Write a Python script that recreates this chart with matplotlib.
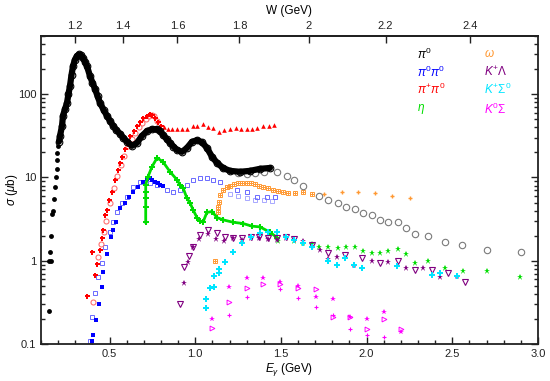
import matplotlib
matplotlib.use('Agg')
import matplotlib.pyplot as plt
import numpy as np
from matplotlib.ticker import MultipleLocator, NullLocator, LogLocator, NullFormatter

plt.rcParams['font.family'] = ['Liberation Sans', 'DejaVu Sans']
plt.rcParams['mathtext.fontset'] = 'custom'
plt.rcParams['mathtext.it'] = 'Liberation Sans:italic'
plt.rcParams['mathtext.rm'] = 'Liberation Sans'
plt.rcParams['mathtext.sf'] = 'Liberation Sans'

# ---------------- data (E_gamma in GeV, sigma in microbarn) ----------------
pi0_low_E = [0.145, 0.148, 0.153, 0.157, 0.158, 0.164, 0.170, 0.176, 0.182, 0.188, 0.193, 0.194, 0.196, 0.199]
pi0_low_s = [0.25, 1.0, 1.26, 1.0, 2.0, 3.6, 4.0, 5.5, 7.7, 10, 12.8, 16, 19.8, 24]

pi0_E = [0.205, 0.211, 0.223, 0.228, 0.240, 0.252, 0.260, 0.269, 0.278, 0.287, 0.298, 0.310, 0.322, 0.334,
         0.345, 0.357, 0.368, 0.386, 0.400, 0.415, 0.430, 0.444, 0.465, 0.485, 0.502, 0.520, 0.540, 0.561,
         0.580, 0.602, 0.631, 0.660, 0.689, 0.718, 0.748, 0.777, 0.795, 0.812, 0.833, 0.853, 0.873, 0.893,
         0.923, 0.952, 0.981, 1.010, 1.039, 1.068, 1.098, 1.127, 1.162, 1.203, 1.261, 1.319, 1.378, 1.436]
pi0_s = [27, 31.6, 42, 55, 66, 79, 100, 125, 170, 218, 260, 288, 300, 292,
         272, 245, 218, 165, 138, 116, 95, 79, 65, 55, 48, 42, 37, 33.5,
         30, 27, 24, 26, 31.6, 36, 38, 38, 36, 32.5, 29, 26, 23.5, 21.5,
         20.3, 22.7, 26.8, 28, 26.5, 22.7, 17.7, 15, 13, 12, 11.7, 12, 12.7, 13]

pi0_hi_E = [1.25, 1.30, 1.35, 1.40, 1.475, 1.533, 1.576, 1.630, 1.724, 1.776, 1.831, 1.879, 1.932, 1.980,
            2.029, 2.078, 2.126, 2.181, 2.230, 2.282, 2.360, 2.457, 2.558, 2.704, 2.899]
pi0_hi_s = [11.2, 11.0, 11.3, 11.5, 11.6, 10.5, 9.4, 8.0, 6.07, 5.40, 4.93, 4.48, 4.17, 3.74,
            3.50, 3.10, 2.91, 2.91, 2.47, 2.09, 1.96, 1.68, 1.56, 1.34, 1.27]

pipi0_fill_E = [0.368, 0.398, 0.415, 0.427, 0.444, 0.456, 0.462, 0.473, 0.485, 0.497, 0.514, 0.532, 0.549,
                0.561, 0.575, 0.590, 0.605, 0.619, 0.640, 0.658, 0.678, 0.697, 0.716, 0.736, 0.750, 0.765, 0.784, 0.800]
pipi0_fill_s = [0.38, 1.28, 0.68, 0.92, 1.36, 1.89, 2.36, 3.57, 4.1, 5.4, 6.7, 9.4, 12.4,
                15, 17.5, 22, 25, 31.6, 36, 41.7, 47, 52.5, 55, 57.6, 56, 52.5, 45.8, 42]
pipi0_open_E = [0.403, 0.433, 0.450, 0.468, 0.480, 0.503, 0.525, 0.545, 0.567, 0.585, 0.610, 0.630, 0.650,
                0.670, 0.690, 0.710, 0.728, 0.745, 0.760, 0.775]
pipi0_open_s = [0.32, 1.12, 1.6, 2.2, 3.0, 5.0, 7.5, 10.5, 14, 18, 24, 29, 34, 40, 45, 50, 54, 56, 54, 48]
pipi0_tri_E = [0.82, 0.84, 0.864, 0.893, 0.923, 0.952, 0.987, 1.010, 1.045, 1.074, 1.104, 1.138, 1.168, 1.203,
               1.238, 1.267, 1.302, 1.331, 1.360, 1.395, 1.430, 1.459]
pipi0_tri_s = [40, 38.5, 38.2, 38.2, 38.2, 38.2, 41.7, 41, 44, 40.2, 39.1, 35.6, 37.2, 38.2,
               39.1, 38.2, 38.2, 38.2, 39.1, 41.7, 41.7, 42.8]

pi0pi0_fill_E = [0.398, 0.403, 0.421, 0.438, 0.456, 0.462, 0.485, 0.508, 0.520, 0.538, 0.561, 0.590, 0.613,
                 0.637, 0.666, 0.695, 0.716, 0.736, 0.750, 0.765, 0.780, 0.794, 0.810]
pi0pi0_fill_s = [0.11, 0.13, 0.196, 0.30, 0.49, 0.74, 1.2, 1.94, 2.36, 2.9, 4.3, 5.0, 5.9,
                 6.7, 7.7, 8.9, 9.5, 9.9, 9.4, 8.9, 8.5, 8.2, 7.8]
pi0pi0_open_E = [0.386, 0.398, 0.415, 0.433, 0.456, 0.473, 0.503, 0.520, 0.543, 0.573, 0.602, 0.637, 0.678,
                 0.736, 0.777, 0.835, 0.870, 0.911, 0.952, 0.987, 1.028, 1.068, 1.104, 1.144, 1.185, 1.244,
                 1.302, 1.360, 1.419, 1.465]
pi0pi0_open_s = [0.11, 0.21, 0.41, 0.64, 0.95, 1.47, 2.2, 2.9, 3.9, 5.0, 5.9, 7.7, 8.9,
                 8.6, 8.2, 7.1, 6.7, 7.1, 8.2, 9.4, 9.9, 9.9, 9.4, 8.9, 7.7, 7.1,
                 6.6, 5.9, 5.9, 5.9]
pi0pi0_lt_E = [1.20, 1.25, 1.30, 1.35, 1.40, 1.45]
pi0pi0_lt_s = [6.3, 6.0, 5.6, 5.4, 5.3, 5.2]

eta_E = [0.711, 0.711, 0.711, 0.711, 0.711, 0.724, 0.748, 0.777, 0.812, 0.853, 0.893, 0.911, 0.929, 0.952,
         0.969, 0.987, 1.010, 1.030, 1.045, 1.068, 1.098, 1.127, 1.162, 1.220, 1.279, 1.331, 1.378, 1.436, 1.477]
eta_s = [2.9, 4.4, 5.7, 6.7, 8.2, 10.2, 13.5, 17.2, 15.4, 11.7, 9.4, 8.2, 7.5, 5.6,
         5.0, 4.1, 3.3, 3.0, 2.9, 3.8, 3.9, 3.3, 3.1, 2.9, 2.8, 2.6, 2.55, 2.2, 1.9]
eta_hi_E = [1.483, 1.576, 1.629, 1.681, 1.722, 1.774, 1.833, 1.879, 1.932, 1.979, 2.031, 2.078, 2.124, 2.183,
            2.230, 2.282, 2.358, 2.457, 2.562, 2.702, 2.895]
eta_hi_s = [1.74, 1.74, 1.65, 1.60, 1.47, 1.47, 1.43, 1.47, 1.47, 1.32, 1.25, 1.25, 1.32, 1.39,
            1.21, 0.95, 1.0, 0.82, 0.76, 0.76, 0.64]

omega_E = [1.115, 1.130, 1.135, 1.140, 1.145, 1.162, 1.185, 1.203, 1.225, 1.250, 1.275, 1.302, 1.325, 1.348,
           1.372, 1.395, 1.425, 1.453, 1.480, 1.510, 1.540, 1.580, 1.630, 1.680]
omega_s = [1.0, 3.8, 4.4, 5.1, 6.2, 7.1, 7.6, 7.9, 8.3, 8.6, 8.7, 8.6, 8.5, 8.4,
           8.0, 7.7, 7.4, 7.1, 6.9, 6.7, 6.5, 6.5, 6.6, 6.4]
omega_hi_E = [1.751, 1.856, 1.950, 2.049, 2.148, 2.253]
omega_hi_s = [6.4, 6.7, 6.7, 6.5, 6.0, 5.7]

kl_tri_E = [0.911, 0.934, 0.963, 0.987, 1.028, 1.074, 1.127, 1.174, 1.220, 1.273, 1.325, 1.372, 1.424, 1.477,
            1.529, 1.576, 1.681, 1.774, 1.874, 1.973, 2.078, 2.183, 2.282, 2.381, 2.474, 2.573]
kl_tri_s = [0.30, 0.85, 1.15, 1.47, 2.05, 2.36, 2.17, 1.94, 1.89, 1.89, 1.94, 1.94, 1.89, 1.89,
            1.94, 1.84, 1.56, 1.25, 1.18, 1.09, 0.95, 1.0, 0.78, 0.78, 0.72, 0.55]
kl_star_E = [0.934, 0.957, 0.987, 1.022, 1.074, 1.121, 1.168, 1.220, 1.273, 1.325, 1.372, 1.424, 1.477, 1.529,
             1.629, 1.728, 1.774, 1.827, 1.926, 2.031, 2.124, 2.230, 2.328, 2.428, 2.527]
kl_star_s = [0.54, 0.97, 1.47, 1.84, 2.1, 1.84, 1.74, 1.89, 1.79, 1.85, 1.85, 1.8, 1.79, 1.9,
             1.74, 1.36, 1.06, 1.12, 0.9, 1.0, 0.97, 0.82, 0.82, 0.63, 0.66]

ks0_E = [1.060, 1.064, 1.087, 1.110, 1.110, 1.139, 1.139, 1.174, 1.220, 1.273, 1.325, 1.378, 1.424, 1.477,
         1.529, 1.576, 1.629, 1.681, 1.774, 1.827, 1.874, 1.926, 1.973, 2.180, 2.381, 2.428, 2.527]
ks0_s = [0.27, 0.35, 0.47, 0.49, 0.66, 0.72, 0.80, 0.97, 1.28, 1.64, 1.94, 2.17, 2.2, 2.2,
         1.94, 1.79, 1.64, 1.47, 1.0, 0.9, 1.09, 0.9, 0.82, 0.87, 0.68, 0.72, 0.66]

k0s_a_E = [1.098, 1.197, 1.302, 1.395, 1.494, 1.599, 1.704, 1.803, 1.903, 2.002, 2.101, 2.200]
k0s_a_s = [0.20, 0.49, 0.62, 0.62, 0.56, 0.50, 0.37, 0.35, 0.21, 0.20, 0.24, 0.14]
k0s_b_E = [1.098, 1.197, 1.302, 1.395, 1.494, 1.599, 1.704, 1.803, 1.903, 2.002, 2.101, 2.200]
k0s_b_s = [0.157, 0.32, 0.47, 0.52, 0.53, 0.47, 0.46, 0.21, 0.21, 0.15, 0.20, 0.15]
k0s_c_E = [1.197, 1.302, 1.494, 1.599, 1.704, 1.803, 1.903, 2.002, 2.101]
k0s_c_s = [0.22, 0.37, 0.46, 0.36, 0.28, 0.22, 0.15, 0.13, 0.12]

w_ticks = [1.2, 1.4, 1.6, 1.8, 2.0, 2.2, 2.4]
w_labels = ['1.2', '1.4', '1.6', '1.8', '2', '2.2', '2.4']
e_ticks = [0.5, 1.0, 1.5, 2.0, 2.5, 3.0]
e_labels = ['0.5', '1.0', '1.5', '2.0', '2.5', '3.0']
s_ticks = [0.1, 1, 10, 100]
s_labels = ['0.1', '1', '10', '100']

labels_left = [r'$\pi^0$', r'$\pi^0\pi^0$', r'$\pi^{+}\pi^0$', r'$\eta$']
colors_left = ['black', '#0000ff', '#ff0000', '#00dd00']
labels_right = [r'$\omega$', r'$K^{+}\Lambda$', r'$K^{+}\Sigma^0$', r'$K^0\Sigma$']
colors_right = ['#ff9933', '#800080', '#00e5ff', '#ff00ff']

# ---------------- figure ----------------
fig = plt.figure(figsize=(5.5, 3.81), dpi=100)
ax = fig.add_axes([41/550, 1-344/381, 497/550, 308/381])

RED = '#ff0000'; LRED = '#ff7070'
BLUE = '#0000ff'; LBLUE = '#6a6aff'; LLBLUE = '#a8a8ff'
GREEN = '#00dd00'; ORANGE = '#ff9933'; PURPLE = '#800080'
CYAN = '#00e5ff'; MAG = '#ff00ff'

# pi0
ax.plot(pi0_low_E, pi0_low_s, 'o', color='black', ms=3.5, mew=0, zorder=5)
ax.plot(pi0_E, pi0_s, '-', color='black', lw=4.5, zorder=4, solid_capstyle='round')
ax.plot(pi0_E, pi0_s, 'o', mfc='none', mec='black', ms=4.8, mew=0.8, zorder=4)
ax.plot(pi0_hi_E, pi0_hi_s, 'o', mfc='none', mec='#7a7a7a', ms=4.6, mew=0.8, zorder=3)

# pi+ pi0
ax.plot(pipi0_open_E, pipi0_open_s, 'o', mfc='none', mec=LRED, ms=3.6, mew=0.8, zorder=3)
ax.plot(pipi0_fill_E, pipi0_fill_s, 'P', color=RED, ms=3.6, mew=0, zorder=3)
ax.plot(pipi0_tri_E, pipi0_tri_s, '^', color=RED, ms=3.3, mew=0, zorder=3)

# pi0 pi0
ax.plot(pi0pi0_lt_E, pi0pi0_lt_s, 's', mfc='none', mec=LLBLUE, ms=3.5, mew=0.7, zorder=2)
ax.plot(pi0pi0_open_E, pi0pi0_open_s, 's', mfc='none', mec=LBLUE, ms=3.5, mew=0.7, zorder=2)
ax.plot(pi0pi0_fill_E, pi0pi0_fill_s, 's', color=BLUE, ms=3.0, mew=0, zorder=3)

# eta
ax.plot(eta_E, eta_s, '-', color=GREEN, lw=2.0, zorder=3)
ax.plot(eta_E, eta_s, 'P', color=GREEN, ms=4.0, mew=0, zorder=3)
ax.plot(eta_hi_E, eta_hi_s, '*', color=GREEN, ms=5.0, mew=0, zorder=3)

# omega
ax.plot(omega_E, omega_s, 's', mfc='none', mec=ORANGE, ms=3.2, mew=0.7, zorder=2)
ax.plot(omega_E, omega_s, '+', color=ORANGE, ms=3.0, mew=0.7, zorder=2)
ax.plot(omega_hi_E, omega_hi_s, '+', color=ORANGE, ms=3.5, mew=1.0, zorder=2)

# K+ Lambda
ax.plot(kl_tri_E, kl_tri_s, 'v', mfc='none', mec=PURPLE, ms=4.2, mew=0.8, zorder=3)
ax.plot(kl_star_E, kl_star_s, '*', color=PURPLE, ms=4.5, mew=0, zorder=3)

# K+ Sigma0
ax.plot(ks0_E, ks0_s, 'P', color=CYAN, ms=4.0, mew=0, zorder=3)

# K0 Sigma+
ax.plot(k0s_a_E, k0s_a_s, '*', color=MAG, ms=3.8, mew=0, zorder=3)
ax.plot(k0s_b_E, k0s_b_s, '>', mfc='none', mec=MAG, ms=3.5, mew=0.7, zorder=3)
ax.plot(k0s_c_E, k0s_c_s, '+', color=MAG, ms=3.0, mew=0.8, zorder=3)

# axes
ax.set_xlim(0.1, 3.0)
ax.set_yscale('log')
ax.set_ylim(0.1, 500)
ax.set_xticks(e_ticks)
ax.set_xticklabels(e_labels)
ax.xaxis.set_minor_locator(MultipleLocator(0.1))
ax.set_yticks(s_ticks)
ax.set_yticklabels(s_labels)
ax.yaxis.set_minor_locator(LogLocator(base=10, subs=np.arange(2, 10)))
ax.yaxis.set_minor_formatter(NullFormatter())
ax.tick_params(which='both', direction='in', top=False, right=True, labelsize=8, width=1.0, colors='#222222')
ax.tick_params(which='major', length=5)
ax.tick_params(which='minor', length=2.8)
for sp in ax.spines.values():
    sp.set_linewidth(1.3)
    sp.set_color('#222222')

fig.text(289/550, 1-370/381, r'$E_\gamma$ (GeV)', fontsize=8.5, ha='center', va='center')
fig.text(12/550, 1-190/381, r'$\sigma$ ($\mu$b)', fontsize=8.5, ha='center', va='center', rotation=90)

M = 0.938
def e2w(E):
    E = np.asarray(E, dtype=float)
    return np.sqrt(np.clip(M**2 + 2*M*E, 1e-6, None))
def w2e(W):
    W = np.asarray(W, dtype=float)
    return (W**2 - M**2) / (2*M)

sec = ax.secondary_xaxis('top', functions=(e2w, w2e))
sec.set_xticks(w_ticks)
sec.set_xticklabels(w_labels)
sec.xaxis.set_minor_locator(NullLocator())
sec.tick_params(direction='in', length=5, width=1.0, labelsize=8, colors='#222222')
sec.set_xlabel('W (GeV)', fontsize=8.5, labelpad=5)
sec.spines['top'].set_linewidth(1.3)

ys = [0.9416, 0.883, 0.825, 0.763]
for t, c, y in zip(labels_left, colors_left, ys):
    ax.text(0.756, y, t, color=c, fontsize=8.5, ha='left', va='center', transform=ax.transAxes)
for t, c, y in zip(labels_right, colors_right, ys):
    ax.text(0.892, y, t, color=c, fontsize=8.5, ha='left', va='center', transform=ax.transAxes)

fig.savefig('out.png', dpi=100)
